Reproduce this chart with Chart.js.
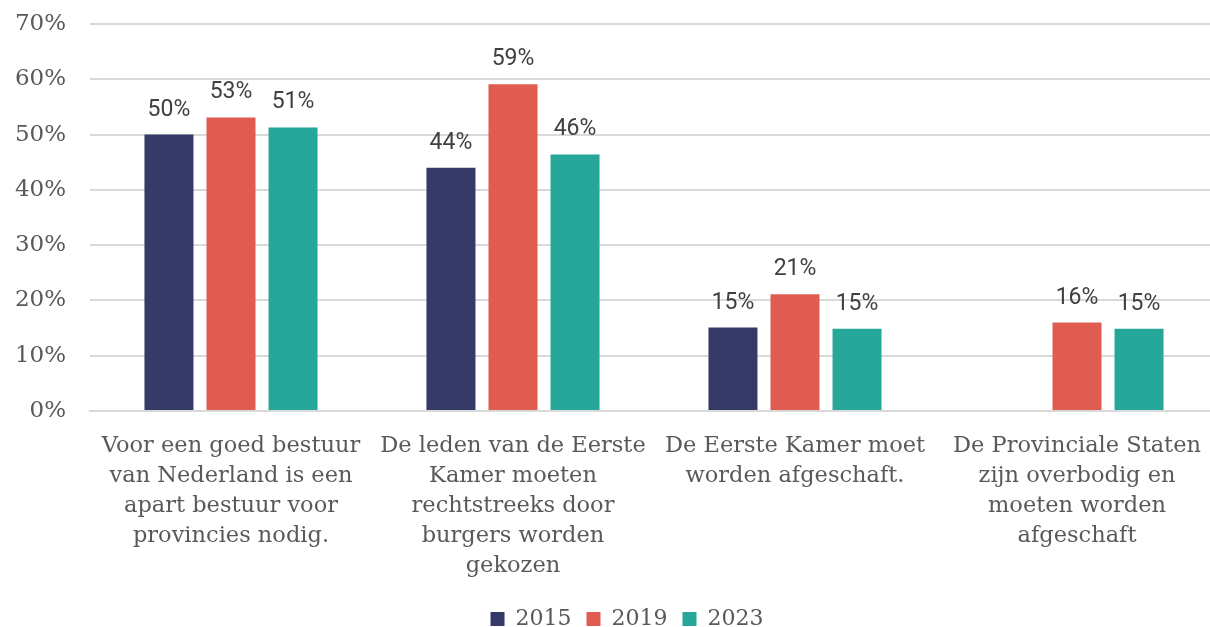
<!DOCTYPE html>
<html>
<head>
<meta charset="utf-8">
<script src="https://cdn.jsdelivr.net/npm/chart.js"></script>
<style>
  html, body { margin: 0; padding: 0; background: #fff; overflow: hidden; }
  #wrap { width: 1210px; height: 627px; overflow: hidden; }
</style>
</head>
<body>
<!-- the plot area of the original runs a few px past the right edge, so the canvas is slightly wider than the window -->
<div id="wrap"><canvas id="chart" width="1218" height="627"></canvas></div>
<script>
// category labels, pre-wrapped like the original
const categories = [
    ['Voor een goed bestuur', 'van Nederland is een', 'apart bestuur voor', 'provincies nodig.'],
    ['De leden van de Eerste', 'Kamer moeten', 'rechtstreeks door', 'burgers worden', 'gekozen'],
    ['De Eerste Kamer moet', 'worden afgeschaft.'],
    ['De Provinciale Staten', 'zijn overbodig en', 'moeten worden', 'afgeschaft']
];
const years = ['2015', '2019', '2023'];
const values2015 = [50.0, 44.0, 15.1, null];
const values2019 = [53.1, 59.1, 21.1, 16.0];
const values2023 = [51.3, 46.4, 14.9, 14.9];
const yTicks = [0, 10, 20, 30, 40, 50, 60, 70];

const colors = ['#363a66', '#e05c50', '#27a69a'];
const serif = '"DejaVu Serif", serif';
const textGrey = '#595959';

// draws the % value above each bar
const barLabels = {
    id: 'barLabels',
    afterDatasetsDraw(chart) {
        const ctx = chart.ctx;
        ctx.save();
        ctx.font = '23px Roboto, sans-serif';
        ctx.fillStyle = '#404040';
        ctx.textAlign = 'center';
        ctx.textBaseline = 'alphabetic';
        chart.data.datasets.forEach((ds, i) => {
            const meta = chart.getDatasetMeta(i);
            meta.data.forEach((el, j) => {
                const v = ds.data[j];
                if (v == null) return;
                ctx.fillText(Math.round(v) + '%', el.x, el.y - 19);
            });
        });
        ctx.restore();
    }
};

// nudge the legend a bit to the right, like the original
const legendShift = {
    id: 'legendShift',
    afterLayout(chart) {
        if (!chart.legend) return;
        chart.legend.left += 18;
        chart.legend.right += 18;
    }
};

new Chart(document.getElementById('chart'), {
    type: 'bar',
    data: {
        labels: categories,
        datasets: [
            { label: years[0], data: values2015, backgroundColor: colors[0] },
            { label: years[1], data: values2019, backgroundColor: colors[1] },
            { label: years[2], data: values2023, backgroundColor: colors[2] }
        ]
    },
    options: {
        responsive: false,
        animation: false,
        layout: { padding: { top: 24, right: 0, left: 0, bottom: -13 } },
        datasets: { bar: { categoryPercentage: 0.66, barPercentage: 0.79 } },
        plugins: {
            legend: {
                position: 'bottom',
                labels: {
                    font: { family: serif, size: 22 },
                    color: textGrey,
                    usePointStyle: true,
                    pointStyle: 'rect',
                    boxWidth: 14,
                    boxHeight: 14,
                    padding: 15
                }
            },
            tooltip: { enabled: false }
        },
        scales: {
            x: {
                grid: { display: false },
                border: { color: '#d9d9d9', width: 2 },
                ticks: {
                    font: { family: serif, size: 22.5, lineHeight: 1.333 },
                    color: textGrey,
                    maxRotation: 0,
                    autoSkip: false,
                    padding: 12
                }
            },
            y: {
                min: 0,
                max: 70,
                afterBuildTicks(scale) { scale.ticks = yTicks.map(v => ({ value: v })); },
                afterFit(scale) { scale.width = 90; },
                grid: { color: '#d9d9d9', lineWidth: 2, drawTicks: true, tickLength: 24, tickColor: 'rgba(0,0,0,0)' },
                border: { display: false },
                ticks: {
                    font: { family: serif, size: 23 },
                    color: textGrey,
                    padding: 0,
                    callback: v => v + '%'
                }
            }
        }
    },
    plugins: [barLabels, legendShift]
});
</script>
</body>
</html>
